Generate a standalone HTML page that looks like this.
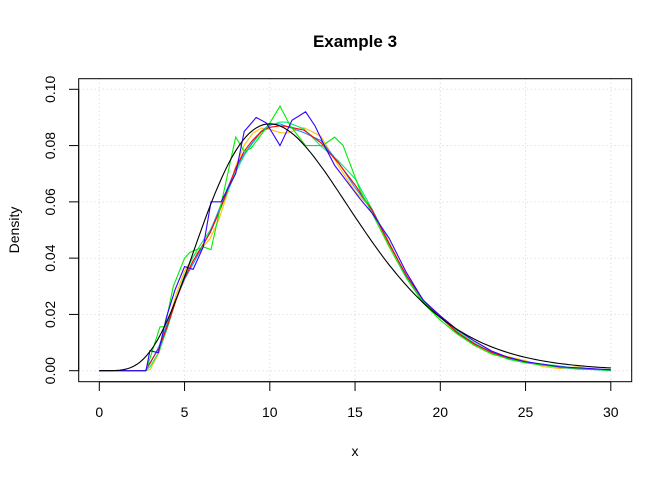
<!DOCTYPE html>
<html><head><meta charset="utf-8"><style>
html,body{margin:0;padding:0;background:#fff;}
svg{display:block;font-family:"Liberation Sans",Arial,sans-serif;}
</style></head><body>
<svg id="s" width="672" height="480" xmlns="http://www.w3.org/2000/svg">
<rect width="672" height="480" fill="#fff"/>
<text x="355" y="47" text-anchor="middle" font-size="17" font-weight="bold">Example 3</text>
<text x="355" y="456" text-anchor="middle" font-size="14">x</text>
<text transform="translate(19,230) rotate(-90)" text-anchor="middle" font-size="14">Density</text>
<g id="grid" stroke="#d3d3d3" stroke-dasharray="1,3" stroke-width="1"></g>
<g id="axes" stroke="#000" fill="none"></g>
<g id="lab" font-size="14"></g>
<g id="curves" fill="none" stroke-width="1.1"></g>
<rect x="78.7" y="78.7" width="553" height="303" fill="none" stroke="#000" stroke-width="1"/>
</svg>
<script>
var NS="http://www.w3.org/2000/svg";
function X(x){return 99.3+17.05*x;}
function Y(y){return 370.7-2814*y;}
function el(p,t,a,txt){var e=document.createElementNS(NS,t);for(var k in a)e.setAttribute(k,a[k]);if(txt!=null)e.textContent=txt;document.getElementById(p).appendChild(e);return e;}
for(var i=0;i<=30;i+=5){el("grid","line",{x1:X(i),x2:X(i),y1:78.7,y2:381.7});
 el("axes","line",{x1:X(i),x2:X(i),y1:381.7,y2:391});
 el("lab","text",{x:X(i),y:417,"text-anchor":"middle"},String(i));}
el("axes","line",{x1:X(0),x2:X(30),y1:381.7,y2:381.7});
for(var j=0;j<=5;j++){var v=j*0.02;el("grid","line",{x1:78.7,x2:631.7,y1:Y(v),y2:Y(v)});
 el("axes","line",{x1:69,x2:78.7,y1:Y(v),y2:Y(v)});
 el("lab","text",{transform:"translate(55,"+Y(v)+") rotate(-90)","text-anchor":"middle"},v.toFixed(2));}
el("axes","line",{x1:78.7,x2:78.7,y1:Y(0),y2:Y(0.1)});
function pl(pts,c){var s=pts.map(function(p){return X(p[0]).toFixed(1)+","+Y(p[1]).toFixed(2)}).join(" ");el("curves","polyline",{points:s,stroke:c});}
var base=[[0,0],[2.7,0],[3,0.003],[3.5,0.008],[4,0.016],[4.5,0.025],[5,0.033],[5.5,0.039],[6,0.044],[6.5,0.049],[7,0.056],[7.5,0.064],[8,0.072],[8.5,0.078],[9,0.082],[9.5,0.085],[10,0.0865],[10.6,0.087],[11,0.0868],[12,0.0855],[13,0.081],[14,0.074],[15,0.066],[16,0.057],[17,0.045],[18,0.034],[19,0.025],[20,0.019],[21,0.0135],[22,0.0095],[23,0.0065],[24,0.0045],[25,0.003],[26,0.002],[27,0.0013],[28,0.0008],[30,0.0003]];
function mod(f){return base.map(function(p){return [p[0],Math.max(0,p[1]+(p[0]>2.7?f(p[0]):0))];});}
pl(mod(function(x){return 0.0025*Math.sin(x*1.6)*(x<16?1:0.3);}),"#FFC000");
pl(mod(function(x){return 0.0015*Math.sin(x*1.2+1)*(x<16?1:0.3)+(x>13&&x<16?0.002:0);}),"#00EE76");
pl(mod(function(x){return 0.001*Math.sin(x*2)*(x<16?1:0.3);}),"#1E90FF");
pl(base,"#FF0000");
var green=[[0,0],[2.74,0],[3.56,0.0156],[3.85,0.0156],[4.34,0.03],[5,0.040],[5.3,0.042],[6.1,0.044],[6.55,0.043],[7.14,0.059],[8,0.083],[8.5,0.078],[8.9,0.079],[10,0.088],[10.6,0.094],[11.2,0.087],[12.1,0.080],[13.1,0.080],[13.8,0.083],[14.3,0.080],[15.3,0.064],[16,0.056],[17,0.044],[18,0.033],[19,0.024],[20,0.018],[21,0.013],[22,0.009],[23,0.006],[24,0.0042],[25,0.0028],[27,0.0012],[30,0.0002]];
pl(green,"#00EE00");
var blue=[[0,0],[2.74,0],[2.97,0.0071],[3.46,0.0064],[3.95,0.0192],[4.44,0.0287],[5,0.037],[5.5,0.036],[6.1,0.044],[6.55,0.060],[7.14,0.060],[8,0.070],[8.5,0.085],[9.2,0.090],[9.8,0.088],[10.6,0.080],[11.3,0.089],[12.1,0.092],[12.65,0.087],[13.2,0.080],[13.8,0.073],[15.3,0.061],[16,0.056],[17,0.047],[18,0.035],[19,0.025],[20,0.0195],[21,0.0145],[22,0.0105],[23,0.007],[24,0.0047],[25,0.0032],[27,0.0014],[30,0.0003]];
pl(blue,"#3300FF");
var blk=[];for(var x=0;x<=30.001;x+=0.2){var d=Math.pow(x,5)*Math.exp(-x/2)/7680;blk.push([x,d]);}
pl(blk,"#000");
</script>
</body></html>
